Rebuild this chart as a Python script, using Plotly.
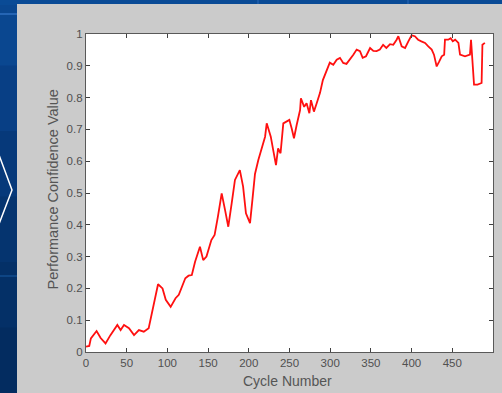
import plotly.graph_objects as go

# Performance confidence value recorded over training cycles
cycle = [0, 4, 6, 10, 13, 18, 24, 30, 35, 38.5, 42.5, 46.7, 52.8, 59, 65, 71, 77,
         81.5, 85.6, 88.5, 94, 98, 104, 110, 114, 118, 122, 126, 130, 134, 140,
         144, 148, 154, 158, 162, 166.7, 170.8, 174.8, 179, 183, 189, 193, 196.5,
         201.5, 204.5, 207.6, 211.7, 215.8, 220, 222, 227, 230, 233.4, 236, 239,
         242.4, 246.5, 249.8, 252.7, 255.5, 258.8, 263, 264, 268, 271, 274.4,
         276.4, 280, 283.4, 287.5, 291, 295.5, 299.5, 303.8, 308, 312, 316, 320,
         324.3, 328.4, 332.5, 336.6, 339.9, 344, 349, 353, 357, 361, 365, 369,
         373.5, 377.5, 381.6, 383.7, 387.8, 392, 396, 400, 404, 408, 412, 416.5,
         420.5, 424.7, 427.5, 430.8, 434, 437, 440, 441, 445, 448, 450.6, 453.5,
         457.5, 459.5, 465.6, 471.7, 473, 474.5, 476.7, 481, 486, 487, 490]
confidence = [0.017, 0.019, 0.043, 0.055, 0.066, 0.044, 0.027, 0.053, 0.072, 0.085,
              0.069, 0.085, 0.075, 0.053, 0.069, 0.064, 0.075, 0.132, 0.184, 0.213,
              0.200, 0.164, 0.142, 0.169, 0.180, 0.205, 0.232, 0.240, 0.242, 0.284,
              0.331, 0.289, 0.300, 0.352, 0.368, 0.425, 0.499, 0.447, 0.394, 0.468,
              0.541, 0.572, 0.520, 0.436, 0.405, 0.480, 0.560, 0.604, 0.640, 0.677,
              0.719, 0.677, 0.635, 0.588, 0.640, 0.625, 0.719, 0.724, 0.730, 0.703,
              0.672, 0.714, 0.761, 0.798, 0.771, 0.782, 0.751, 0.792, 0.756, 0.782,
              0.815, 0.855, 0.885, 0.910, 0.903, 0.919, 0.925, 0.909, 0.906, 0.919,
              0.935, 0.951, 0.946, 0.925, 0.930, 0.956, 0.947, 0.946, 0.951, 0.966,
              0.956, 0.968, 0.966, 0.982, 0.993, 0.961, 0.956, 0.977, 0.996, 0.993,
              0.982, 0.977, 0.972, 0.961, 0.951, 0.935, 0.898, 0.914, 0.930, 0.935,
              0.982, 0.982, 0.987, 0.977, 0.982, 0.972, 0.935, 0.930, 0.935, 0.982,
              0.935, 0.841, 0.841, 0.846, 0.966, 0.972]

x_ticks = [0, 50, 100, 150, 200, 250, 300, 350, 400, 450, 500]
y_ticks = [0, 0.1, 0.2, 0.3, 0.4, 0.5, 0.6, 0.7, 0.8, 0.9, 1]
y_tick_text = ["0", "0.1", "0.2", "0.3", "0.4", "0.5", "0.6", "0.7", "0.8", "0.9", "1"]

W, H = 502, 393
L, R, T, B = 86, 9, 34, 41
PW, PH = W - L - R, H - T - B


def px(xpix):
    return (xpix - L) / PW


def py(ypix):
    return (H - B - ypix) / PH


fig = go.Figure()
fig.add_trace(go.Scatter(
    x=cycle, y=confidence, mode="lines",
    line=dict(color="#ff1010", width=1.8),
    showlegend=False, hoverinfo="skip",
))

shapes = []
# slide background: vertical blue gradient bands on the left edge
bands = ["#0a4790", "#083f85", "#06397a", "#05346f", "#043067", "#032c60"]
band_h = H / len(bands)
for i, c in enumerate(bands):
    shapes.append(dict(type="rect", xref="paper", yref="paper", layer="below",
                       x0=px(-2), x1=px(18), y0=py(i * band_h + band_h + 1),
                       y1=py(i * band_h), fillcolor=c, line_width=0))
# top strip
shapes.append(dict(type="rect", xref="paper", yref="paper", layer="below",
                   x0=px(-2), x1=px(W + 2), y0=py(5), y1=py(-2),
                   fillcolor="#0a4b96", line_width=0))
# faint grid lines of the slide template
for xx in (258, 408):
    shapes.append(dict(type="line", xref="paper", yref="paper", layer="below",
                       x0=px(xx), x1=px(xx), y0=py(5), y1=py(0),
                       line=dict(color="#2a6ab8", width=1)))
shapes.append(dict(type="line", xref="paper", yref="paper", layer="below",
                   x0=px(0), x1=px(17), y0=py(14), y1=py(14),
                   line=dict(color="#2f6fc0", width=1.5)))
shapes.append(dict(type="line", xref="paper", yref="paper", layer="below",
                   x0=px(0), x1=px(17), y0=py(276), y1=py(276),
                   line=dict(color="#124d8e", width=1.5)))
# chevron outline
shapes.append(dict(type="path", xref="paper", yref="paper", layer="below",
                   path=f"M {px(-1)},{py(155)} L {px(12)},{py(190)} L {px(-1)},{py(224)}",
                   line=dict(color="#ffffff", width=1.5)))
# grey figure panel
shapes.append(dict(type="rect", xref="paper", yref="paper", layer="below",
                   x0=px(17), x1=px(W + 2), y0=py(H + 2), y1=py(4),
                   fillcolor="#cbcbcb", line_width=0))
# white axes area on top of the panel
shapes.append(dict(type="rect", xref="paper", yref="paper", layer="below",
                   x0=0, x1=1, y0=0, y1=1,
                   fillcolor="#ffffff", line_width=0))

axis_common = dict(
    showgrid=False, zeroline=False, showline=True, mirror="ticks",
    linecolor="#595959", linewidth=1.3, ticks="inside", ticklen=4,
    tickcolor="#404040", tickwidth=1,
    tickfont=dict(family="Liberation Sans, Arial, sans-serif", size=11.5, color="#505050"),
)

fig.update_layout(
    width=W, height=H,
    margin=dict(l=L, r=R, t=T, b=B, pad=0),
    paper_bgcolor="#05387a", plot_bgcolor="#ffffff",
    shapes=shapes,
    xaxis=dict(range=[0, 500], tickvals=x_ticks, **axis_common),
    yaxis=dict(range=[0, 1], tickvals=y_ticks, ticktext=y_tick_text, **axis_common),
    annotations=[
        dict(text="Cycle Number", xref="paper", yref="paper", x=px(287), y=py(381),
             showarrow=False, xanchor="center", yanchor="middle",
             font=dict(family="Liberation Sans, Arial, sans-serif", size=14, color="#555555")),
        dict(text="Performance Confidence Value", xref="paper", yref="paper",
             x=px(52.5), y=py(190), textangle=-90, showarrow=False,
             xanchor="center", yanchor="middle",
             font=dict(family="Liberation Sans, Arial, sans-serif", size=14.5, color="#555555")),
    ],
)

fig.write_html("out.html")
